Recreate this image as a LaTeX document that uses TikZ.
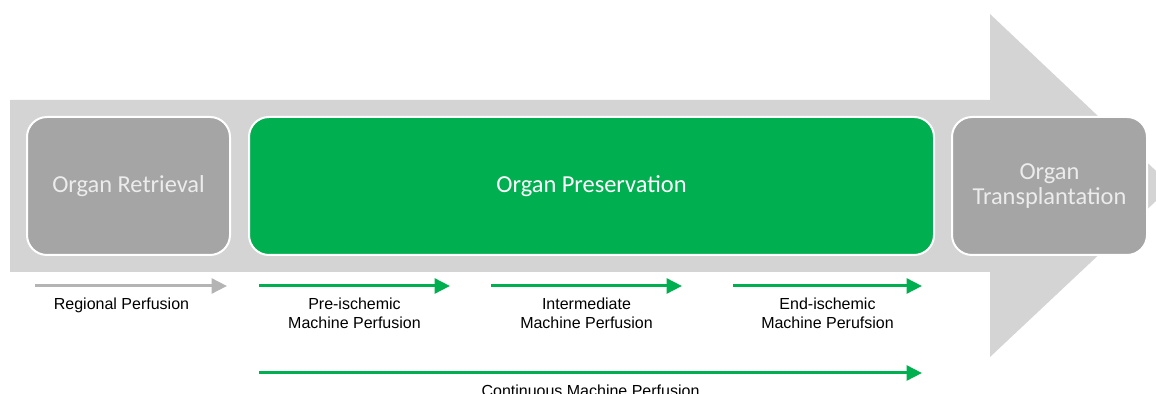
\documentclass[tikz,border=0pt]{standalone}
\usepackage{fontspec}
\setmainfont{Liberation Sans}
\newfontfamily\boxfont{Carlito}
\usetikzlibrary{arrows.meta, positioning}
\definecolor{ogreen}{HTML}{00B050}
\definecolor{ogray}{HTML}{A5A5A5}
\definecolor{olight}{HTML}{D4D4D4}
\definecolor{oarrow}{HTML}{B4B4B4}
\definecolor{otext}{HTML}{ECECEC}

\begin{document}
\begin{tikzpicture}[
    x=0.5pt, y=-0.5pt,
    >={Triangle[length=7.75pt, width=7.5pt]},
    stage/.style={rectangle, draw=white, line width=1pt, rounded corners=10pt, fill=ogray, text=otext, minimum height=69pt, align=center, font=\boxfont\fontsize{12.2}{12.5}\selectfont},
    lbl/.style={inner sep=0pt, align=center, text=black, font=\fontsize{8}{9.5}\selectfont},
    flow/.style={->, line width=1.5pt, ogreen},
    regflow/.style={flow, oarrow}
]
\useasboundingbox (0,0) rectangle (1156,394);
\clip (0,0) rectangle (1156,394);

% Background arrow
\fill[olight] (10,100) -- (990,100) -- (990,14) -- (1172,186) -- (990,357) -- (990,272) -- (10,272) -- cycle;

% Stages
\node[stage, minimum width=101.5pt] (retrieval) at (128.5,186) {Organ Retrieval};
\node[stage, minimum width=342.5pt, fill=ogreen, text=white] (preservation) at (591.5,186) {Organ Preservation};
\node[stage, minimum width=97.5pt] (transplant) at (1049.5,186) {Organ\\Transplantation};

% Perfusion arrows
\coordinate (reg-s) at (35,286);
\coordinate (reg-e) at (227,286);
\coordinate (pre-s) at (259,286);
\coordinate (pre-e) at (450,286);
\coordinate (mid-s) at (491,286);
\coordinate (mid-e) at (682,286);
\coordinate (end-s) at (733,286);
\coordinate (end-e) at (922,286);
\coordinate (cont-s) at (259,373);
\coordinate (cont-e) at (922,373);

\draw[regflow] (reg-s) -- node[lbl, below=5pt, xshift=-4.75pt] (reg-lbl) {Regional Perfusion} (reg-e);
\draw[flow] (pre-s) -- node[lbl, below=5pt] (pre-lbl) {Pre-ischemic\\Machine Perfusion} (pre-e);
\draw[flow] (mid-s) -- node[lbl, below=5pt] (mid-lbl) {Intermediate\\Machine Perfusion} (mid-e);
\draw[flow] (end-s) -- node[lbl, below=5pt] (end-lbl) {End-ischemic\\Machine Perufsion} (end-e);
\draw[flow] (cont-s) -- node[lbl, below=5pt] (cont-lbl) {Continuous Machine Perfusion} (cont-e);

\end{tikzpicture}
\end{document}
